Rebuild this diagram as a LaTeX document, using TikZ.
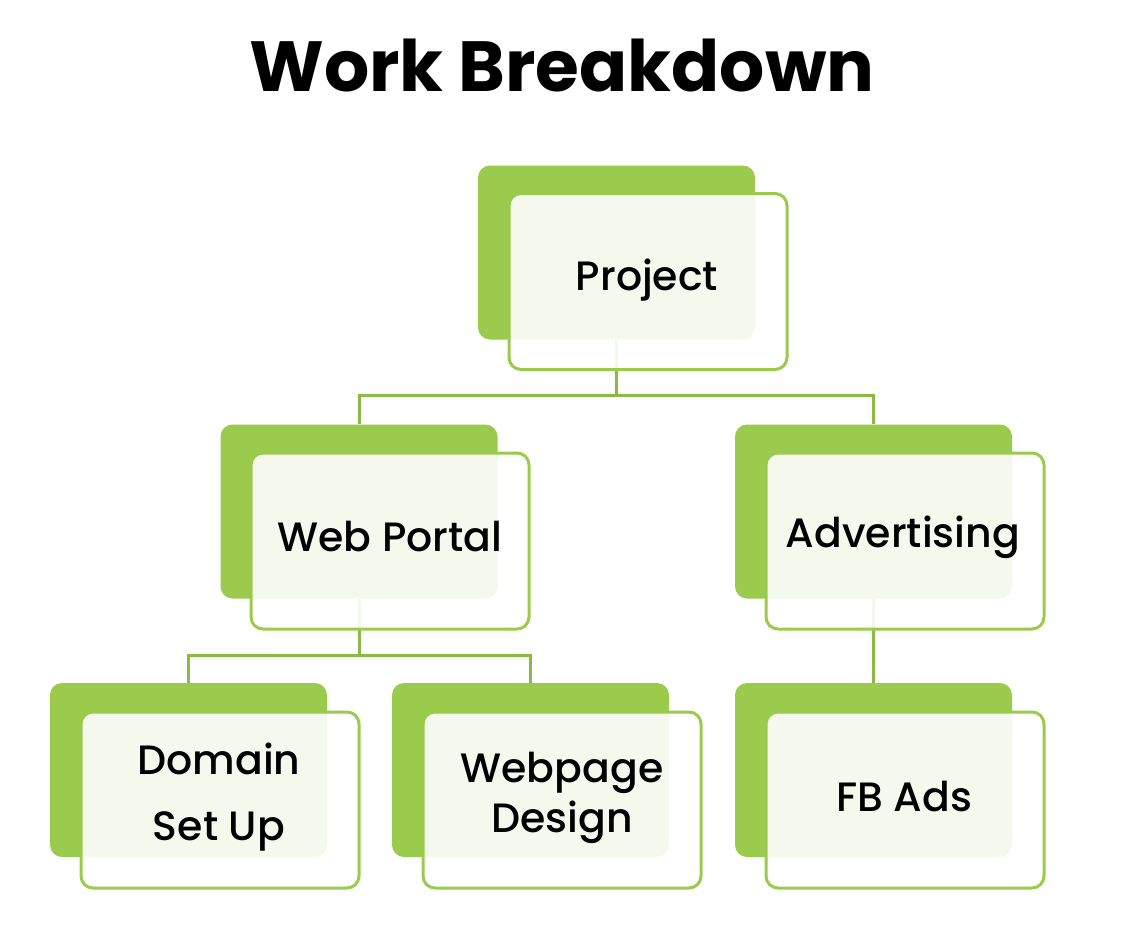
\documentclass[tikz,border=0pt]{standalone}
\usepackage{fontspec}
\setmainfont{Poppins}
\newfontfamily\boxfont{Poppins Medium}
\usetikzlibrary{positioning,backgrounds}
\definecolor{leaf}{HTML}{9BCB4C}
\definecolor{stem}{HTML}{8CBB45}
\tikzset{
  backbox/.style={fill=leaf, rounded corners=6pt, minimum width=138.5pt, minimum height=87pt, inner sep=0pt},
  frontbox/.style={fill=white, fill opacity=0.9, draw=leaf, line width=1.5pt, rounded corners=6pt,
    minimum width=139pt, minimum height=88pt, inner sep=0pt},
  label/.style={font=\boxfont\fontsize{20.5}{33}\selectfont, align=center, text=black},
  link/.style={draw=stem, line width=1.5pt}
}
\begin{document}
\begin{tikzpicture}[x=0.5pt,y=-0.5pt]
  \useasboundingbox (0,0) rectangle (1132,942);
  \node[font=\fontsize{35.5}{42}\bfseries\selectfont] (title) at (562,66) {Work Breakdown};

  % green boxes at the back
  \node[backbox] (proj) at (616.5,252.5) {};
  \node[backbox] (web) at (359,511.5) {};
  \node[backbox] (adv) at (873.5,511.5) {};
  \node[backbox] (dom) at (188.5,770) {};
  \node[backbox] (page) at (530.5,770) {};
  \node[backbox] (fb) at (873.5,770) {};

  % light boxes in front
  \node[frontbox] (projF) at (648,281.5) {};
  \node[frontbox] (webF) at (390,541) {};
  \node[frontbox] (advF) at (905,541) {};
  \node[frontbox] (domF) at (220,800) {};
  \node[frontbox] (pageF) at (562,800) {};
  \node[frontbox] (fbF) at (905,800) {};

  \node[label] at (647,280) {Project};
  \node[label] at (390,537) {Web Portal};
  \node[label] at (903,537) {Advertising};
  \node[label] at (219,797) {Domain\\Set Up};
  \node[label, font=\boxfont\fontsize{20.5}{25}\selectfont] at (562,798) {Webpage\\Design};
  \node[label] at (904,797) {FB Ads};

  % connectors
  \coordinate (busA) at (616.5,395);
  \coordinate (busB) at (359,655);
  \begin{scope}[on background layer]
    \draw[link] (proj.south) -- (busA) -| (web.north);
    \draw[link] (busA) -| (adv.north);
    \draw[link] (web.south) -- (busB) -| (dom.north);
    \draw[link] (busB) -| (page.north);
    \draw[link] (adv.south) -- (fb.north);
  \end{scope}
\end{tikzpicture}
\end{document}
